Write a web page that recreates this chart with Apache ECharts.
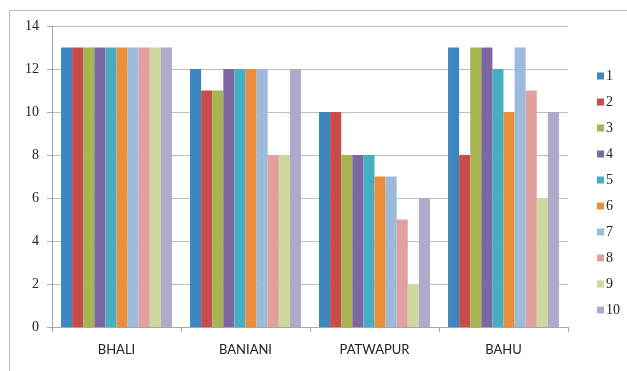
<!DOCTYPE html>
<html>
<head>
<meta charset="utf-8">
<script src="https://cdn.jsdelivr.net/npm/echarts@6/dist/echarts.min.js"></script>
<style>
  html, body { margin: 0; padding: 0; background: #fff; }
  #chart { width: 627px; height: 371px; }
</style>
</head>
<body>
<div id="chart"></div>
<script>
// Villages on the category axis
const villages = ['BHALI', 'BANIANI', 'PATWAPUR', 'BAHU'];

// One series per numbered item, values per village
const s1  = [13, 12, 10, 13];
const s2  = [13, 11, 10, 8];
const s3  = [13, 11, 8, 13];
const s4  = [13, 12, 8, 13];
const s5  = [13, 12, 8, 12];
const s6  = [13, 12, 7, 10];
const s7  = [13, 12, 7, 13];
const s8  = [13, 8, 5, 11];
const s9  = [13, 8, 2, 6];
const s10 = [13, 12, 6, 10];

const seriesNames = ['1', '2', '3', '4', '5', '6', '7', '8', '9', '10'];
const seriesValues = [s1, s2, s3, s4, s5, s6, s7, s8, s9, s10];

const palette = ['#3E86BF', '#C84D4A', '#A6B552', '#7D67A3', '#46ADC2',
                 '#EA8E3B', '#9CBADA', '#E0A09D', '#CED79D', '#B2A8CA'];

const chart = echarts.init(document.getElementById('chart'), null, { renderer: 'canvas' });

chart.setOption({
  animation: false,
  color: palette,
  graphic: [{
    type: 'rect',
    shape: { x: 9.5, y: 10.5, width: 640, height: 400 },
    style: { fill: 'none', stroke: '#BDBDBD', lineWidth: 1 },
    silent: true,
    z: -1
  }],
  grid: { left: 52, right: 59, top: 26, bottom: 44 },
  legend: {
    orient: 'vertical',
    left: 592,
    top: 64,
    icon: 'rect',
    itemWidth: 7,
    itemHeight: 7,
    itemGap: 12,
    textStyle: { fontFamily: 'Liberation Serif', fontSize: 14, lineHeight: 14, color: '#222', padding: [0, 0, 0, -3] },
    data: seriesNames
  },
  xAxis: {
    type: 'category',
    data: villages,
    axisLine: { lineStyle: { color: '#A6A6A6' } },
    axisTick: { show: true, length: 5, lineStyle: { color: '#A6A6A6' } },
    axisLabel: { fontFamily: 'Lato', fontSize: 13, color: '#222', margin: 16 }
  },
  yAxis: {
    type: 'value',
    min: 0,
    max: 14,
    interval: 2,
    axisLine: { show: true, lineStyle: { color: '#A6A6A6' } },
    axisTick: { show: true, length: 5, lineStyle: { color: '#A6A6A6' } },
    axisLabel: { fontFamily: 'Liberation Serif', fontSize: 14, color: '#222', margin: 13 },
    splitLine: { lineStyle: { color: '#BEBEBE' } }
  },
  series: seriesNames.map((name, i) => ({
    name: name,
    type: 'bar',
    data: seriesValues[i],
    barGap: '0%',
    barCategoryGap: '14%'
  }))
});
</script>
</body>
</html>
